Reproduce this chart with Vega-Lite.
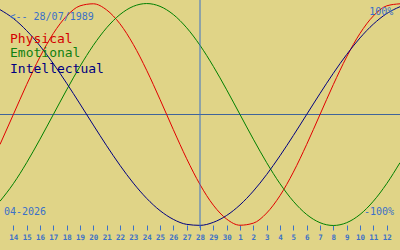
{
  "$schema": "https://vega.github.io/schema/vega-lite/v6.json",
  "width": 400,
  "height": 250,
  "padding": 0,
  "autosize": {"type": "none"},
  "background": "#e0d487",
  "config": {"view": {"stroke": null}},
  "resolve": {"axis": {"x": "independent", "y": "independent"}},
  "data": {"values": [
      {"series":"Physical","d":-15,"v":-0.2698},{"series":"Physical","d":-14,"v":0},{"series":"Physical","d":-13,"v":0.2698},{"series":"Physical","d":-12,"v":0.5196},{"series":"Physical","d":-11,"v":0.7308},{"series":"Physical","d":-10,"v":0.8879},{"series":"Physical","d":-9,"v":0.9791},{"series":"Physical","d":-8,"v":0.9977},{"series":"Physical","d":-7,"v":0.9423},{"series":"Physical","d":-6,"v":0.817},{"series":"Physical","d":-5,"v":0.6311},{"series":"Physical","d":-4,"v":0.3984},{"series":"Physical","d":-3,"v":0.1362},{"series":"Physical","d":-2,"v":-0.1362},{"series":"Physical","d":-1,"v":-0.3984},{"series":"Physical","d":0,"v":-0.6311},{"series":"Physical","d":1,"v":-0.817},{"series":"Physical","d":2,"v":-0.9423},{"series":"Physical","d":3,"v":-0.9977},{"series":"Physical","d":4,"v":-0.9791},{"series":"Physical","d":5,"v":-0.8879},{"series":"Physical","d":6,"v":-0.7308},{"series":"Physical","d":7,"v":-0.5196},{"series":"Physical","d":8,"v":-0.2698},{"series":"Physical","d":9,"v":0},{"series":"Physical","d":10,"v":0.2698},{"series":"Physical","d":11,"v":0.5196},{"series":"Physical","d":12,"v":0.7308},{"series":"Physical","d":13,"v":0.8879},{"series":"Physical","d":14,"v":0.9791},{"series":"Physical","d":15,"v":0.9977},
      {"series":"Emotional","d":-15,"v":-0.7818},{"series":"Emotional","d":-14,"v":-0.6235},{"series":"Emotional","d":-13,"v":-0.4339},{"series":"Emotional","d":-12,"v":-0.2225},{"series":"Emotional","d":-11,"v":0},{"series":"Emotional","d":-10,"v":0.2225},{"series":"Emotional","d":-9,"v":0.4339},{"series":"Emotional","d":-8,"v":0.6235},{"series":"Emotional","d":-7,"v":0.7818},{"series":"Emotional","d":-6,"v":0.901},{"series":"Emotional","d":-5,"v":0.9749},{"series":"Emotional","d":-4,"v":1},{"series":"Emotional","d":-3,"v":0.9749},{"series":"Emotional","d":-2,"v":0.901},{"series":"Emotional","d":-1,"v":0.7818},{"series":"Emotional","d":0,"v":0.6235},{"series":"Emotional","d":1,"v":0.4339},{"series":"Emotional","d":2,"v":0.2225},{"series":"Emotional","d":3,"v":0},{"series":"Emotional","d":4,"v":-0.2225},{"series":"Emotional","d":5,"v":-0.4339},{"series":"Emotional","d":6,"v":-0.6235},{"series":"Emotional","d":7,"v":-0.7818},{"series":"Emotional","d":8,"v":-0.901},{"series":"Emotional","d":9,"v":-0.9749},{"series":"Emotional","d":10,"v":-1},{"series":"Emotional","d":11,"v":-0.9749},{"series":"Emotional","d":12,"v":-0.901},{"series":"Emotional","d":13,"v":-0.7818},{"series":"Emotional","d":14,"v":-0.6235},{"series":"Emotional","d":15,"v":-0.4339},
      {"series":"Intellectual","d":-15,"v":0.945},{"series":"Intellectual","d":-14,"v":0.866},{"series":"Intellectual","d":-13,"v":0.7557},{"series":"Intellectual","d":-12,"v":0.6182},{"series":"Intellectual","d":-11,"v":0.4582},{"series":"Intellectual","d":-10,"v":0.2817},{"series":"Intellectual","d":-9,"v":0.0951},{"series":"Intellectual","d":-8,"v":-0.0951},{"series":"Intellectual","d":-7,"v":-0.2817},{"series":"Intellectual","d":-6,"v":-0.4582},{"series":"Intellectual","d":-5,"v":-0.6182},{"series":"Intellectual","d":-4,"v":-0.7557},{"series":"Intellectual","d":-3,"v":-0.866},{"series":"Intellectual","d":-2,"v":-0.945},{"series":"Intellectual","d":-1,"v":-0.9898},{"series":"Intellectual","d":0,"v":-0.9989},{"series":"Intellectual","d":1,"v":-0.9718},{"series":"Intellectual","d":2,"v":-0.9096},{"series":"Intellectual","d":3,"v":-0.8146},{"series":"Intellectual","d":4,"v":-0.6901},{"series":"Intellectual","d":5,"v":-0.5406},{"series":"Intellectual","d":6,"v":-0.3717},{"series":"Intellectual","d":7,"v":-0.1893},{"series":"Intellectual","d":8,"v":0},{"series":"Intellectual","d":9,"v":0.1893},{"series":"Intellectual","d":10,"v":0.3717},{"series":"Intellectual","d":11,"v":0.5406},{"series":"Intellectual","d":12,"v":0.6901},{"series":"Intellectual","d":13,"v":0.8146},{"series":"Intellectual","d":14,"v":0.9096},{"series":"Intellectual","d":15,"v":0.9718}
  ]},
  "layer": [
    {
      "data": {"values": [{}]},
      "mark": {"type": "rule", "color": "#40649a", "strokeWidth": 1},
      "encoding": {"y": {"datum": 0, "type": "quantitative", "axis": null}}
    },
    {
      "mark": {"type": "line", "strokeWidth": 1, "interpolate": "monotone", "clip": true},
      "encoding": {
        "x": {
          "field": "d", "type": "quantitative",
          "scale": {"domain": [-15, 15], "nice": false, "zero": false},
          "axis": {
            "values": [-14,-13,-12,-11,-10,-9,-8,-7,-6,-5,-4,-3,-2,-1,0,1,2,3,4,5,6,7,8,9,10,11,12,13,14],
            "labelExpr": "datum.value <= 2 ? 28 + datum.value : datum.value - 2",
            "domain": false, "grid": false, "title": null,
            "offset": -25, "tickSize": 5, "tickColor": "#3a70c8", "tickWidth": 1,
            "labelFont": "DejaVu Sans Mono", "labelFontSize": 7.5, "labelFontWeight": "bold", "labelColor": "#3a70c8",
            "labelPadding": 3, "labelOverlap": false, "labelFlush": false
          }
        },
        "y": {
          "field": "v", "type": "quantitative",
          "scale": {"domain": [-1.221, 1.032], "nice": false, "zero": false},
          "axis": null
        },
        "color": {
          "field": "series", "type": "nominal",
          "scale": {"domain": ["Physical", "Emotional", "Intellectual"], "range": ["#e00000", "#008000", "#000080"]},
          "legend": null
        }
      }
    },
    {
      "data": {"values": [{}]},
      "mark": {"type": "rule", "color": "#3a70c8", "strokeWidth": 1},
      "encoding": {
        "x": {"datum": 0, "type": "quantitative", "axis": null},
        "y": {"datum": 1.032, "type": "quantitative", "axis": null},
        "y2": {"datum": -1.0225}
      }
    },
    {
      "data": {"values": [{}]},
      "mark": {"type": "text", "font": "DejaVu Sans Mono", "fontSize": 10, "color": "#3a70c8", "align": "left", "baseline": "middle"},
      "encoding": {"x": {"datum": -14.29, "type": "quantitative", "axis": null}, "y": {"datum": 0.883, "type": "quantitative", "axis": null}, "text": {"value": "<-- 28/07/1989"}}
    },
    {
      "data": {"values": [{}]},
      "mark": {"type": "text", "font": "DejaVu Sans Mono", "fontSize": 13, "color": "#d40000", "align": "left", "baseline": "alphabetic"},
      "encoding": {"x": {"datum": -14.25, "type": "quantitative", "axis": null}, "y": {"datum": 0.647, "type": "quantitative", "axis": null}, "text": {"value": "Physical"}}
    },
    {
      "data": {"values": [{}]},
      "mark": {"type": "text", "font": "DejaVu Sans Mono", "fontSize": 13, "color": "#108010", "align": "left", "baseline": "alphabetic"},
      "encoding": {"x": {"datum": -14.25, "type": "quantitative", "axis": null}, "y": {"datum": 0.514, "type": "quantitative", "axis": null}, "text": {"value": "Emotional"}}
    },
    {
      "data": {"values": [{}]},
      "mark": {"type": "text", "font": "DejaVu Sans Mono", "fontSize": 13, "color": "#000080", "align": "left", "baseline": "alphabetic"},
      "encoding": {"x": {"datum": -14.25, "type": "quantitative", "axis": null}, "y": {"datum": 0.378, "type": "quantitative", "axis": null}, "text": {"value": "Intellectual"}}
    },
    {
      "data": {"values": [{}]},
      "mark": {"type": "text", "font": "DejaVu Sans Mono", "fontSize": 10, "color": "#3a70c8", "align": "right", "baseline": "middle"},
      "encoding": {"x": {"datum": 14.5, "type": "quantitative", "axis": null}, "y": {"datum": 0.928, "type": "quantitative", "axis": null}, "text": {"value": "100%"}}
    },
    {
      "data": {"values": [{}]},
      "mark": {"type": "text", "font": "DejaVu Sans Mono", "fontSize": 10, "color": "#3a70c8", "align": "right", "baseline": "middle"},
      "encoding": {"x": {"datum": 14.55, "type": "quantitative", "axis": null}, "y": {"datum": -0.883, "type": "quantitative", "axis": null}, "text": {"value": "-100%"}}
    },
    {
      "data": {"values": [{}]},
      "mark": {"type": "text", "font": "DejaVu Sans Mono", "fontSize": 10, "color": "#3a70c8", "align": "left", "baseline": "middle"},
      "encoding": {"x": {"datum": -14.7, "type": "quantitative", "axis": null}, "y": {"datum": -0.878, "type": "quantitative", "axis": null}, "text": {"value": "04-2026"}}
    }
  ]
}
